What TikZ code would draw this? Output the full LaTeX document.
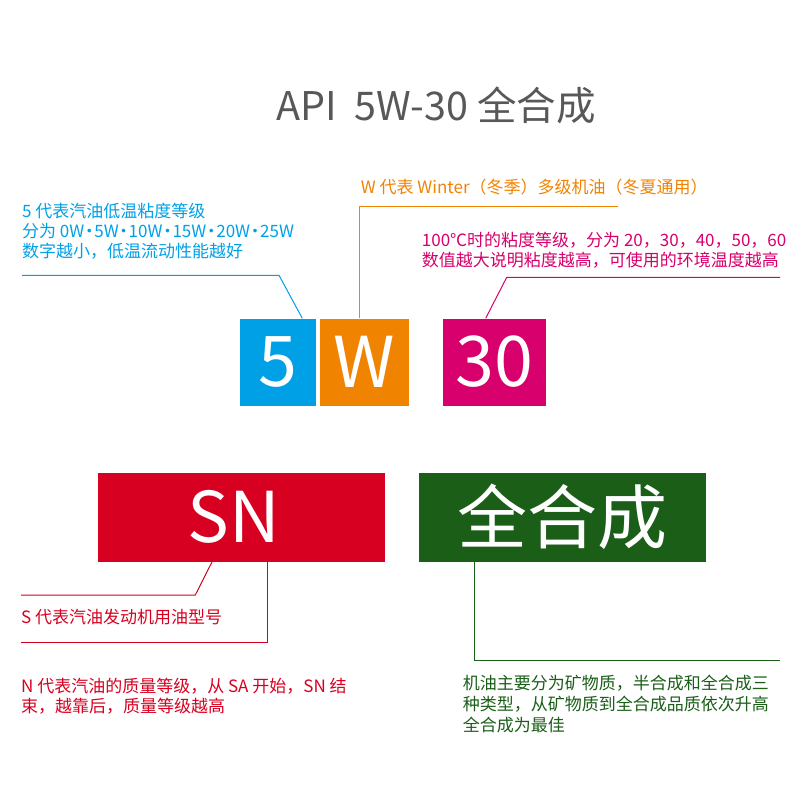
\documentclass[tikz,border=0pt]{standalone}
\usepackage{fontspec}
\setmainfont{Noto Sans CJK SC}
\usetikzlibrary{positioning,calc}
\definecolor{apiblue}{RGB}{0,160,230}
\definecolor{apiorange}{RGB}{240,131,0}
\definecolor{apimagenta}{RGB}{215,0,108}
\definecolor{apired}{RGB}{215,0,32}
\definecolor{apigreen}{RGB}{26,94,24}
\definecolor{apigray}{RGB}{89,87,87}
\newcommand{\gradedot}{\makebox[10pt]{·}}

\begin{document}
\begin{tikzpicture}[x=1pt,y=-1pt,
    box/.style={inner sep=0pt, text=white, font=\fontsize{70}{70}\selectfont},
    note/.style={inner sep=0pt, anchor=west, align=left, font=\fontsize{17}{20}\selectfont},
    lead/.style={line width=1pt}]
  \useasboundingbox (0,0) rectangle (800,800);

  % Title
  \node [inner sep=0pt, anchor=base, text=apigray, font=\fontsize{39.5}{40}\selectfont] (title) at (436,120) {API\ \ 5W-30 全合成};

  % Boxes 5 W 30
  \node [box, fill=apiblue, minimum width=76, minimum height=87] (five) at (278,362) {5};
  \node [box, fill=apiorange, minimum width=89, minimum height=87] (wbox) at (364.5,362) {W};
  \node [box, fill=apimagenta, minimum width=103, minimum height=87] (thirty) at (494.2,362) {30};

  % Boxes SN and synthetic
  \node [box, fill=apired, minimum width=287, minimum height=89] (sn) at (241.5,517.2) {\hspace*{-15pt}SN};
  \node [box, fill=apigreen, minimum width=287, minimum height=89] (synth) at (562.3,517.2) {全合成};

  % Note for 5
  \node [note, text=apiblue] (fivenote) at (22,231.7) {5 代表汽油低温粘度等级\\分为 0W\gradedot 5W\gradedot 10W\gradedot 15W\gradedot 20W\gradedot 25W\\数字越小，低温流动性能越好};
  \coordinate (fivebend) at (279,275.3);
  \coordinate (fiveend) at (22,275.3);
  \draw [lead, apiblue] ([xshift=24.3pt]five.north) -- (fivebend) -- (fiveend);

  % Note for W
  \node [note, text=apiorange] (wnote) at (360.7,187.3) {W 代表 Winter（冬季）多级机油（冬夏通用）};
  \coordinate (wend) at (618.3,206);
  \draw [lead, apiorange] ([xshift=-5.2pt]wbox.north) |- (wend);

  % Note for 30
  \node [note, text=apimagenta] (thirtynote) at (421.7,250) {100℃时的粘度等级，分为 20，30，40，50，60\\数值越大说明粘度越高，可使用的环境温度越高};
  \coordinate (thirtybend) at (506.7,277.3);
  \coordinate (thirtyend) at (780,277.3);
  \draw [lead, apimagenta] ([xshift=-8.5pt]thirty.north) -- (thirtybend) -- (thirtyend);

  % Notes for S and N
  \node [note, text=apired] (snote) at (21,616.7) {S 代表汽油发动机用油型号};
  \node [note, text=apired] (nnote) at (21,696.3) {N 代表汽油的质量等级，从 SA 开始，SN 结\\束，越靠后，质量等级越高};
  \coordinate (snbend) at (195.3,595);
  \coordinate (snend) at (21,595);
  \coordinate (nend) at (21,642.7);
  \draw [lead, apired] ([xshift=-29.5pt]sn.south) -- (snbend) -- (snend);
  \draw [lead, apired] ([xshift=25.8pt]sn.south) |- (nend);

  % Note for synthetic
  \node [note, text=apigreen, font=\fontsize{17}{21}\selectfont] (synthnote) at (462.7,704) {机油主要分为矿物质，半合成和全合成三\\种类型，从矿物质到全合成品质依次升高\\全合成为最佳};
  \coordinate (synthend) at (780,660);
  \draw [lead, apigreen] ([xshift=-88.3pt]synth.south) |- (synthend);
\end{tikzpicture}
\end{document}
